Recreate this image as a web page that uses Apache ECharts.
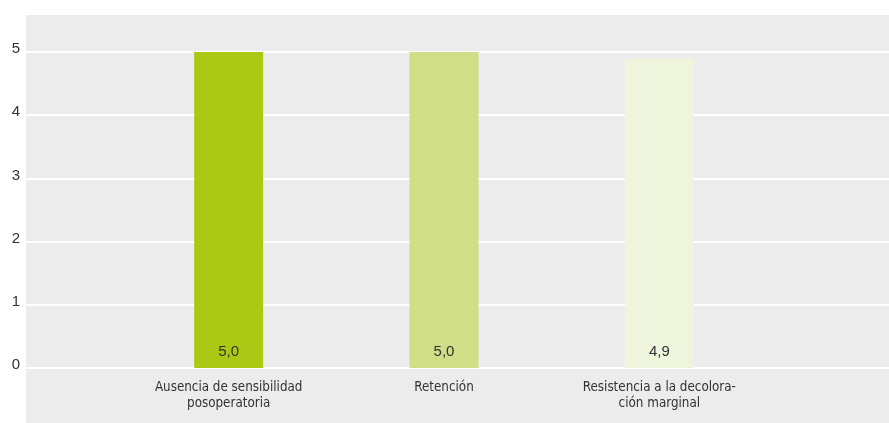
<!DOCTYPE html>
<html>
<head>
<meta charset="utf-8">
<style>
  html, body { margin: 0; padding: 0; background: #ffffff; }
  #chart { width: 889px; height: 423px; }
</style>
<script src="https://cdn.jsdelivr.net/npm/echarts@6/dist/echarts.min.js"></script>
</head>
<body>
<div id="chart"></div>
<script>
// Ratings per criterion (0–5 scale)
const categories = [
  'Ausencia de sensibilidad\nposoperatoria',
  'Retención',
  'Resistencia a la decolora-\nción marginal'
];
const values = [5.0, 5.0, 4.9];
const barColors = ['#abc815', '#d1de88', '#eff4dc'];
const yTicks = [0, 1, 2, 3, 4, 5];

const textColor = '#333333';
const labelFont = '"DejaVu Sans Condensed", "Liberation Sans", Arial, sans-serif';
const numberFont = '"Liberation Sans", Arial, sans-serif';

const chart = echarts.init(document.getElementById('chart'), null, { renderer: 'canvas' });

const yMin = yTicks[0];
const yMax = yTicks[yTicks.length - 1];

chart.setOption({
  animation: false,
  backgroundColor: '#ffffff',
  graphic: [{
    type: 'rect',
    z: -10,
    shape: { x: 26, y: 15, width: 863, height: 408 },
    style: { fill: '#ececec' },
    silent: true
  }],
  grid: [
    // bars
    { left: 121, right: 122, top: 52, bottom: 55, containLabel: false },
    // full-width gridlines and y tick labels
    { left: 26, right: 0, top: 52, bottom: 55, containLabel: false }
  ],
  xAxis: [
    {
      type: 'category',
      gridIndex: 0,
      data: categories,
      axisLine: { show: false },
      axisTick: { show: false },
      axisLabel: {
        color: textColor,
        fontFamily: labelFont,
        fontSize: 13.3,
        lineHeight: 16,
        margin: 12,
        interval: 0
      }
    },
    {
      type: 'value',
      gridIndex: 1,
      show: false
    }
  ],
  yAxis: [
    {
      type: 'value',
      gridIndex: 0,
      min: yMin,
      max: yMax,
      interval: 1,
      axisLine: { show: false },
      axisTick: { show: false },
      axisLabel: { show: false },
      splitLine: { show: false }
    },
    {
      type: 'value',
      gridIndex: 1,
      min: yMin,
      max: yMax,
      interval: 1,
      axisLine: { show: false },
      axisTick: { show: false },
      axisLabel: {
        color: textColor,
        fontFamily: numberFont,
        fontSize: 15,
        margin: 6,
        verticalAlign: 'bottom',
        lineHeight: 6
      },
      splitLine: { show: true, lineStyle: { color: '#ffffff', width: 2 } }
    }
  ],
  series: [{
    type: 'bar',
    xAxisIndex: 0,
    yAxisIndex: 0,
    barWidth: 69,
    z: 5,
    data: values.map((v, i) => ({ value: v, itemStyle: { color: barColors[i] } })),
    label: {
      show: true,
      position: 'insideBottom',
      distance: 9,
      color: textColor,
      fontFamily: numberFont,
      fontSize: 15,
      formatter: p => p.value.toFixed(1).replace('.', ',')
    }
  }]
});
</script>
</body>
</html>
